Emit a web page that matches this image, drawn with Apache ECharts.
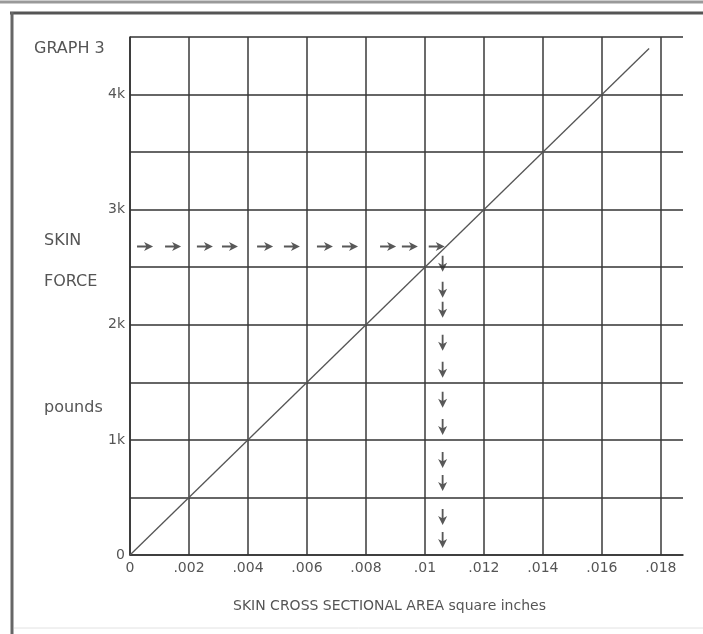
<!DOCTYPE html>
<html>
<head>
<meta charset="utf-8">
<script src="https://cdn.jsdelivr.net/npm/echarts@6/dist/echarts.min.js"></script>
<style>
  html, body { margin: 0; padding: 0; background: #fff; }
  #chart { width: 703px; height: 634px; }
</style>
</head>
<body>
<div id="chart"></div>
<script>
// x ticks (square inches) and their printed labels
var xTicks = [0, 0.002, 0.004, 0.006, 0.008, 0.01, 0.012, 0.014, 0.016, 0.018];
var xTickLabels = ['0', '.002', '.004', '.006', '.008', '.01', '.012', '.014', '.016', '.018'];
// force line: area -> pounds
var lineX = [0, 0.0176];
var lineY = [0, 4400];
// hand drawn arrows, across then down
var arrowAcrossX = [0.00051, 0.00146, 0.00254, 0.00339, 0.00458, 0.00549, 0.00661, 0.00746, 0.00875, 0.00949, 0.0104];
var arrowAcrossY = 2680;
var arrowDownX = 0.0106;
var arrowDownY = [2530, 2304, 2130, 1843, 1609, 1348, 1113, 826, 626, 330, 130];

var ARROW = 'path://M0,4L9,4L7,0L16,5L7,10L9,6L0,6Z';
var textFont = '"DejaVu Sans", Verdana, sans-serif';

var chart = echarts.init(document.getElementById('chart'));

chart.setOption({
  animation: false,
  backgroundColor: '#fff',
  grid: { left: 130, right: 20, top: 37, bottom: 79 },
  xAxis: {
    type: 'value',
    min: 0,
    max: 0.01875,
    interval: 0.002,
    axisLine: { show: true, lineStyle: { color: '#333', width: 1.6 } },
    axisTick: { show: false },
    axisLabel: {
      color: '#555',
      fontSize: 14,
      fontFamily: textFont,
      margin: 6,
      showMaxLabel: false,
      formatter: function (v) {
        var i = Math.round(v / 0.002);
        if (i >= xTickLabels.length || Math.abs(v - xTicks[i]) > 1e-9) return '';
        return xTickLabels[i];
      }
    },
    splitLine: { show: true, showMaxLine: false, lineStyle: { color: '#3a3a3a', width: 1.5 } }
  },
  yAxis: {
    type: 'value',
    min: 0,
    max: 4500,
    interval: 500,
    axisLine: { show: true, lineStyle: { color: '#333', width: 1.6 } },
    axisTick: { show: false },
    axisLabel: {
      color: '#555',
      fontSize: 14,
      fontFamily: textFont,
      margin: 5,
      formatter: function (v) {
        if (v % 1000 !== 0) return '';
        return v === 0 ? '0' : (v / 1000) + 'k';
      }
    },
    splitLine: { show: true, lineStyle: { color: '#333', width: 1.6 } }
  },
  series: [
    {
      type: 'line',
      data: lineX.map(function (x, i) { return [x, lineY[i]]; }),
      symbol: 'none',
      lineStyle: { color: '#555', width: 1.3 }
    },
    {
      type: 'scatter',
      data: arrowAcrossX.map(function (x) { return [x, arrowAcrossY]; }),
      symbol: ARROW,
      symbolSize: [16, 9],
      itemStyle: { color: '#2e2e2e' }
    },
    {
      type: 'scatter',
      data: arrowDownY.map(function (y) { return [arrowDownX, y]; }),
      symbol: ARROW,
      symbolSize: [16, 9],
      symbolRotate: -90,
      itemStyle: { color: '#2e2e2e' }
    }
  ],
  graphic: [
    // scan frame
    { type: 'line', shape: { x1: 0, y1: 2, x2: 703, y2: 2 }, style: { stroke: '#999', lineWidth: 3 } },
    { type: 'line', shape: { x1: 10, y1: 13, x2: 703, y2: 13 }, style: { stroke: '#555', lineWidth: 3 } },
    { type: 'line', shape: { x1: 12, y1: 12, x2: 12, y2: 634 }, style: { stroke: '#666', lineWidth: 3 } },
    { type: 'line', shape: { x1: 14, y1: 628, x2: 703, y2: 628 }, style: { stroke: '#e2e2e2', lineWidth: 1 } },
    // texts
    { type: 'text', left: 34, top: 41, style: { text: 'GRAPH 3', fill: '#555', font: '16px ' + textFont } },
    { type: 'text', left: 44, top: 233, style: { text: 'SKIN', fill: '#555', font: '16px ' + textFont } },
    { type: 'text', left: 44, top: 274, style: { text: 'FORCE', fill: '#555', font: '16px ' + textFont } },
    { type: 'text', left: 44, top: 400, style: { text: 'pounds', fill: '#555', font: '16px ' + textFont } },
    { type: 'text', left: 233, top: 599, style: { text: 'SKIN CROSS SECTIONAL AREA square inches', fill: '#555', font: '14px ' + textFont } }
  ]
});
</script>
</body>
</html>
